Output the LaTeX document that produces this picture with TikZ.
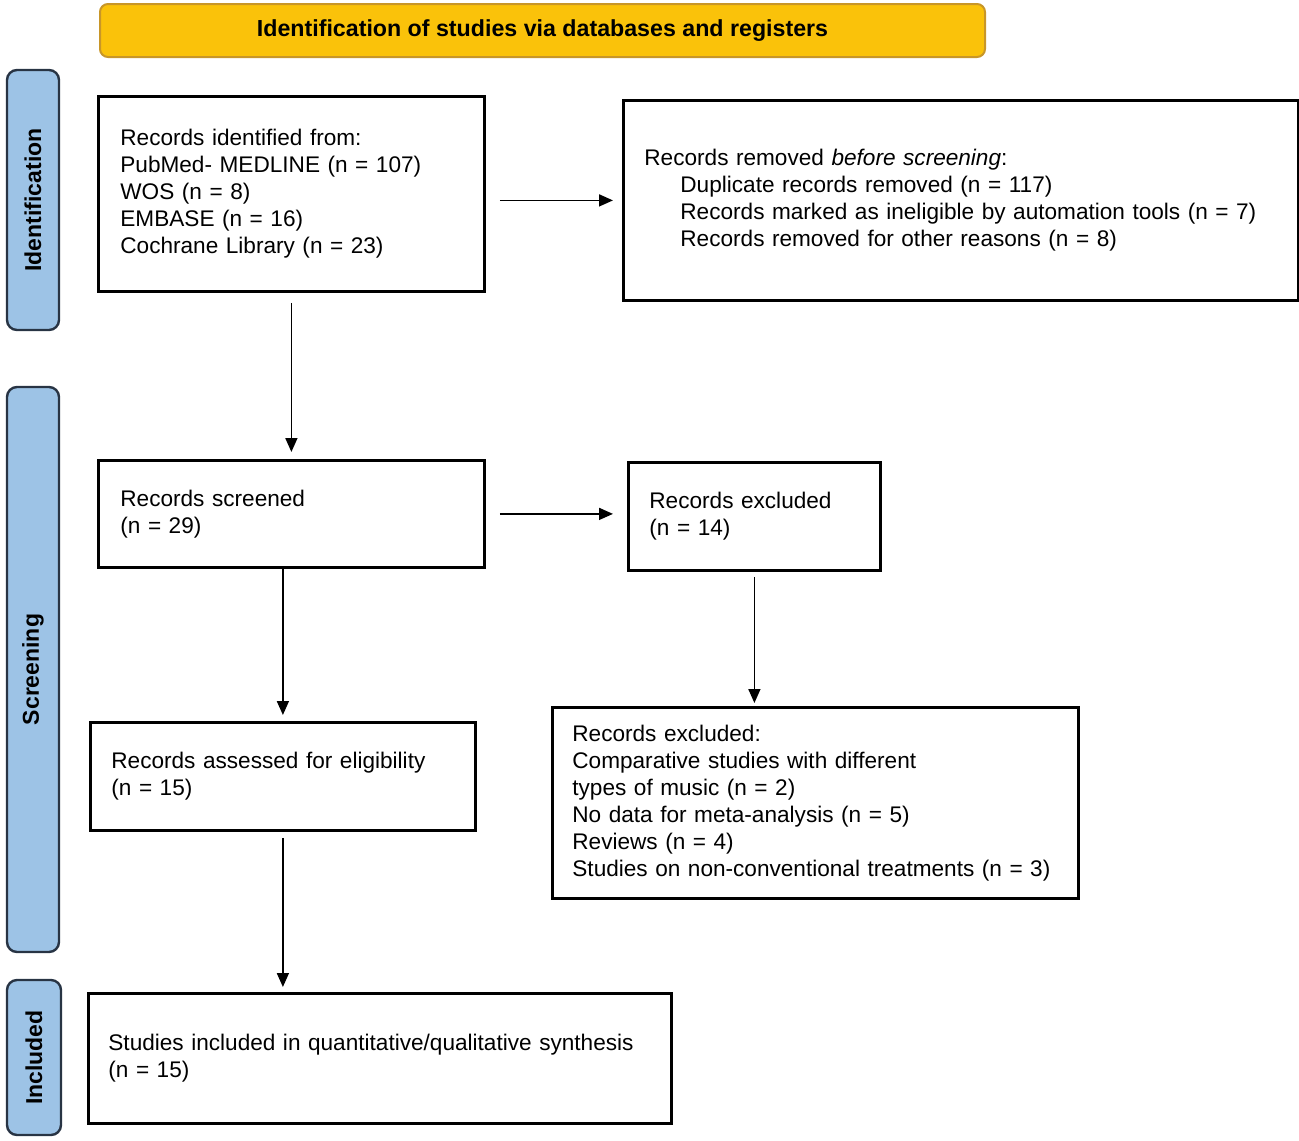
\documentclass[tikz,border=0pt]{standalone}
\usepackage{fontspec}
\setmainfont{Liberation Sans}
\usetikzlibrary{arrows.meta}

\definecolor{bannerfill}{RGB}{250,194,10}
\definecolor{banneredge}{RGB}{200,150,40}
\definecolor{phasefill}{RGB}{157,195,230}
\definecolor{phaseedge}{RGB}{40,52,68}

\tikzset{
  recbox/.style={draw, line width=1.4pt, anchor=north west, align=left,
    inner xsep=11pt, inner ysep=0pt, font=\fontsize{11.3}{13.5}\selectfont},
  phase/.style={draw=phaseedge, fill=phasefill, line width=1.2pt, rounded corners=5pt,
    rotate=90, minimum height=26pt, inner sep=0pt, font=\fontsize{11.5}{13}\selectfont\bfseries},
  flow/.style={->, line width=0.8pt}
}

\begin{document}
\begin{tikzpicture}[x=0.5pt, y=-0.5pt, >={Triangle[length=7pt,width=6pt]}]
    \useasboundingbox (0,0) rectangle (1299,1140);

    % Banner
    \node[draw=banneredge, fill=bannerfill, line width=1pt, rounded corners=4pt,
          minimum width=442.5pt, minimum height=26.5pt, inner sep=0pt,
          font=\fontsize{11.6}{13}\selectfont\bfseries] (banner) at (542.5,30.5)
          {Identification of studies via databases and registers};

    % Phases
    \node[phase, minimum width=130pt] (idph) at (33,200) {Identification};
    \node[phase, minimum width=282.5pt] (scph) at (33,669.5) {Screening};
    \node[phase, minimum width=77.5pt, minimum height=27pt] (inph) at (34,1057.5) {Included};

    % Identification
    \node[recbox, text width=171pt, minimum height=97.5pt] (b1) at (97,95)
      {Records identified from:\\PubMed- MEDLINE (n = 107)\\WOS (n = 8)\\EMBASE (n = 16)\\Cochrane Library (n = 23)};
    \node[recbox, text width=316.5pt, minimum height=100pt, inner xsep=10.5pt] (b2) at (622,99)
      {Records removed \textit{before screening}:\\
       \hspace*{18pt}Duplicate records removed (n = 117)\\
       \hspace*{18pt}Records marked as ineligible by automation tools (n = 7)\\
       \hspace*{18pt}Records removed for other reasons (n = 8)};

    % Screening
    \node[recbox, text width=171pt, minimum height=53.5pt] (b3) at (97,459)
      {Records screened\\(n = 29)};
    \node[recbox, text width=105pt, minimum height=54pt, inner xsep=10.5pt] (b4) at (627,461)
      {Records excluded\\(n = 14)};
    \node[recbox, text width=171.5pt, minimum height=54pt, inner xsep=10.5pt] (b5) at (89,721)
      {Records assessed for eligibility\\(n = 15)};
    \node[recbox, text width=243pt, minimum height=95.5pt, inner xsep=10pt] (b6) at (551,706)
      {Records excluded:\\Comparative studies with different\\types of music (n = 2)\\No data for meta-analysis (n = 5)\\Reviews (n = 4)\\Studies on non-conventional treatments (n = 3)};

    % Included
    \node[recbox, text width=271.5pt, minimum height=65pt, inner xsep=10pt] (b7) at (87,992)
      {Studies included in quantitative/qualitative synthesis\\(n = 15)};

    % Arrows
    \draw[flow, shorten <=7pt, shorten >=4.5pt] (b1.east |- b2.west) -- (b2.west);
    \draw[flow, shorten <=5pt, shorten >=3.5pt] (b1.south) -- (b3.north);
    \draw[flow, shorten <=7pt, shorten >=7pt] (b3.east) -- (b3.east -| b4.west);
    \draw[flow, shorten >=3pt] (b3.south -| b5.north) -- (b5.north);
    \draw[flow, shorten <=2.5pt, shorten >=1.5pt] (b4.south) -- (b4.south |- b6.north);
    \draw[flow, shorten <=3pt, shorten >=2.5pt] (b5.south) -- (b5.south |- b7.north);
\end{tikzpicture}
\end{document}
